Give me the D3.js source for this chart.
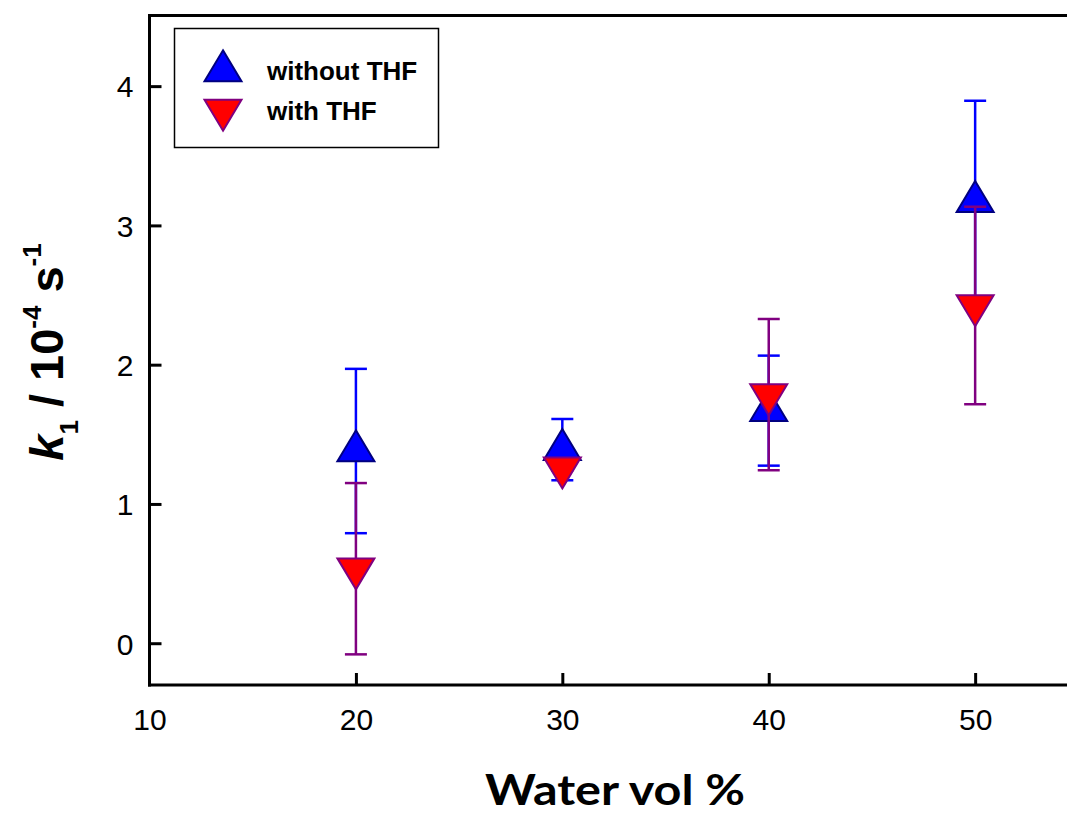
<!DOCTYPE html>
<html>
<head>
<meta charset="utf-8">
<script src="https://cdn.jsdelivr.net/npm/d3@7"></script>
<style>
  html, body { margin: 0; padding: 0; background: #fff; }
  svg { display: block; }
</style>
</head>
<body>
<svg id="chart" width="1067" height="815"></svg>
<script>
// Water content (vol %) at which k1 was measured
const waterVol = [20, 30, 40, 50];

// k1 (10^-4 s^-1) without THF, with standard deviations
const k1WithoutTHF = [1.38, 1.39, 1.67, 3.17];
const errWithoutTHF = [0.59, 0.22, 0.395, 0.725];

// k1 (10^-4 s^-1) with THF, with standard deviations
const k1WithTHF = [0.535, 1.26, 1.785, 2.425];
const errWithTHF = [0.615, 0.02, 0.543, 0.709];

const xTickValues = [10, 20, 30, 40, 50];
const yTickValues = [0, 1, 2, 3, 4];
const seriesNames = ["without THF", "with THF"];

const svg = d3.select("#chart");
const plotLeft = 149.5, plotRight = 1067, plotTop = 15.5, plotBottom = 685;

const x = d3.scaleLinear().domain([10, 54.45]).range([plotLeft, plotRight]);
const y = d3.scaleLinear().domain([-0.3, 4.5]).range([plotBottom, plotTop + 1]);

const axisFont = "'Liberation Sans', Arial, sans-serif";

// frame: left, top and bottom lines
svg.append("line").attr("x1", plotLeft).attr("x2", plotLeft).attr("y1", plotTop - 1.5).attr("y2", plotBottom + 1.5)
  .attr("stroke", "#000").attr("stroke-width", 3);
svg.append("line").attr("x1", plotLeft - 1.5).attr("x2", plotRight).attr("y1", plotTop).attr("y2", plotTop)
  .attr("stroke", "#000").attr("stroke-width", 3);
svg.append("line").attr("x1", plotLeft - 1.5).attr("x2", plotRight).attr("y1", plotBottom).attr("y2", plotBottom)
  .attr("stroke", "#000").attr("stroke-width", 3);

// bottom axis: inward ticks
const xAxis = d3.axisBottom(x).tickValues(xTickValues).tickSize(-12).tickPadding(28).tickFormat(d3.format("d"));
const gx = svg.append("g").attr("transform", `translate(0,${plotBottom})`).call(xAxis);
gx.select(".domain").remove();
gx.selectAll(".tick line").attr("stroke", "#000").attr("stroke-width", 3)
  .filter(d => d === 10).remove();
gx.selectAll(".tick text").attr("font-family", axisFont).attr("font-size", 30).attr("fill", "#000")
  .attr("dy", "0.71em").attr("y", 24);

// left axis: inward ticks
const yAxis = d3.axisLeft(y).tickValues(yTickValues).tickSize(-12).tickPadding(17).tickFormat(d3.format("d"));
const gy = svg.append("g").attr("transform", `translate(${plotLeft},0)`).call(yAxis);
gy.select(".domain").remove();
gy.selectAll(".tick line").attr("stroke", "#000").attr("stroke-width", 3);
gy.selectAll(".tick text").attr("font-family", axisFont).attr("font-size", 30).attr("fill", "#000")
  .attr("x", -16).attr("dy", "0.36em");

// triangle marker paths, anchored at their centroid
const triW = 37, triH = 31;
const upTri = `M0,${-2 * triH / 3}L${triW / 2},${triH / 3}L${-triW / 2},${triH / 3}Z`;
const downTri = `M0,${2 * triH / 3}L${triW / 2},${-triH / 3}L${-triW / 2},${-triH / 3}Z`;

function errorBars(vals, errs, color) {
  const g = svg.append("g");
  const capW = 22;
  waterVol.forEach((w, i) => {
    const cx = x(w), y0 = y(vals[i] - errs[i]), y1 = y(vals[i] + errs[i]);
    g.append("line").attr("x1", cx).attr("x2", cx).attr("y1", y0).attr("y2", y1)
      .attr("stroke", color).attr("stroke-width", 2.5);
    [y0, y1].forEach(yy => g.append("line")
      .attr("x1", cx - capW / 2).attr("x2", cx + capW / 2).attr("y1", yy).attr("y2", yy)
      .attr("stroke", color).attr("stroke-width", 2.5));
  });
}

function markers(vals, path, fill, stroke) {
  svg.append("g").selectAll("path").data(waterVol).join("path")
    .attr("d", path)
    .attr("transform", (w, i) => `translate(${x(w)},${y(vals[i])})`)
    .attr("fill", fill).attr("stroke", stroke).attr("stroke-width", 2).attr("stroke-linejoin", "miter");
}

errorBars(k1WithoutTHF, errWithoutTHF, "#0000ff");
markers(k1WithoutTHF, upTri, "#0000ff", "#000080");
errorBars(k1WithTHF, errWithTHF, "#800080");
markers(k1WithTHF, downTri, "#ff0000", "#800080");

// legend
const lg = svg.append("g");
lg.append("rect").attr("x", 174.5).attr("y", 28.5).attr("width", 264).attr("height", 119)
  .attr("fill", "#fff").attr("stroke", "#000").attr("stroke-width", 1.5);
lg.append("path").attr("d", upTri).attr("transform", "translate(223,71)")
  .attr("fill", "#0000ff").attr("stroke", "#000080").attr("stroke-width", 2);
lg.append("path").attr("d", downTri).attr("transform", "translate(223,110)")
  .attr("fill", "#ff0000").attr("stroke", "#800080").attr("stroke-width", 2);
lg.selectAll("text.leg").data(seriesNames).join("text").attr("class", "leg")
  .attr("x", 267).attr("y", (d, i) => 80 + i * 40)
  .attr("font-family", axisFont).attr("font-weight", "bold").attr("font-size", 26)
  .attr("fill", "#000").text(d => d);

// axis titles
svg.append("text").attr("x", 615).attr("y", 805).attr("text-anchor", "middle")
  .attr("font-family", "Lato, 'Open Sans', sans-serif").attr("font-weight", "bold")
  .attr("font-size", 42).attr("textLength", 260).attr("lengthAdjust", "spacingAndGlyphs")
  .attr("fill", "#000").text("Water vol %");

const yt = svg.append("text").attr("transform", "translate(63,352) rotate(-90)")
  .attr("text-anchor", "middle").attr("font-family", axisFont).attr("font-weight", "bold")
  .attr("font-size", 47).attr("fill", "#000");
yt.append("tspan").attr("font-style", "italic").text("k");
yt.append("tspan").attr("font-size", 26).attr("dy", 15).text("1");
yt.append("tspan").attr("dy", -15).text(" / 10");
yt.append("tspan").attr("font-size", 26).attr("dy", -22).text("-4");
yt.append("tspan").attr("dy", 22).text(" s");
yt.append("tspan").attr("font-size", 26).attr("dy", -22).text("-1");
</script>
</body>
</html>
